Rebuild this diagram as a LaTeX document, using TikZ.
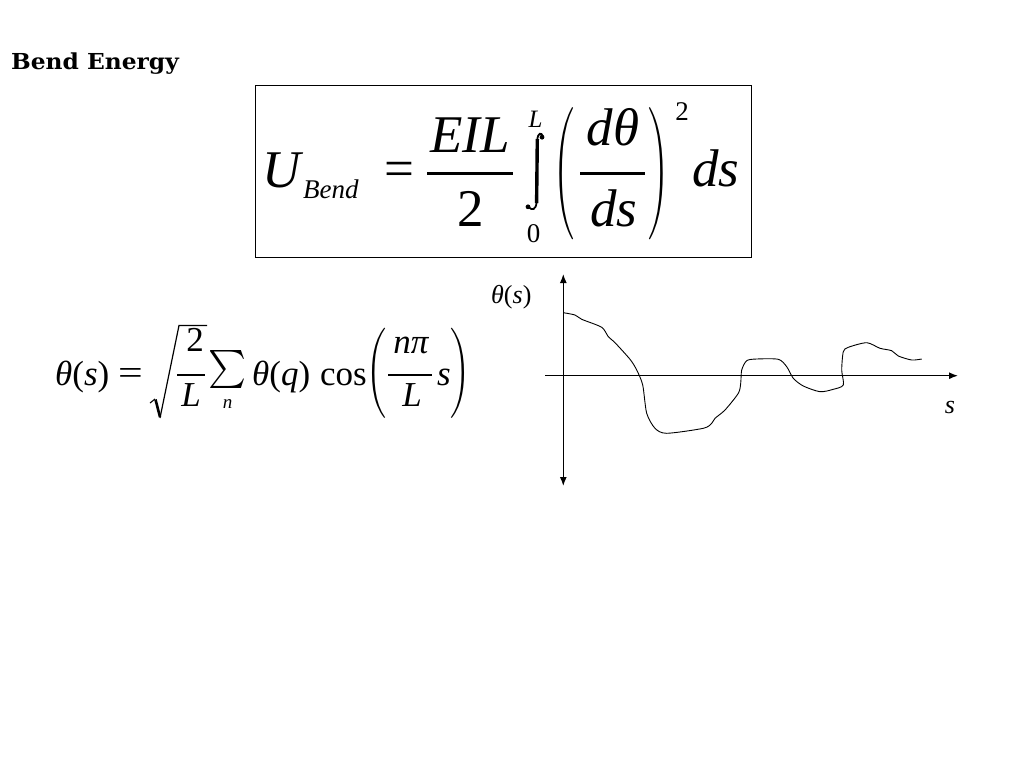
\documentclass[tikz,border=0pt]{standalone}
\usepackage{graphicx}
\usepackage{fontspec}
\setmainfont{Liberation Serif}
\newfontfamily\titlefont{DejaVu Serif}
\usetikzlibrary{arrows.meta}
\tikzset{
  axis/.style={line width=1.3pt,{Latex[length=9pt,width=7pt]}-{Latex[length=9pt,width=7pt]}},
  curve/.style={line width=0.9pt},
  frame/.style={draw,line width=0.9pt},
  big/.style={inner sep=0pt,font=\fontsize{53}{60}\selectfont\itshape},
  bigr/.style={inner sep=0pt,font=\fontsize{53}{60}\selectfont},
  mid/.style={inner sep=0pt,font=\fontsize{35}{40}\selectfont\itshape},
  midr/.style={inner sep=0pt,font=\fontsize{35}{40}\selectfont},
  sml/.style={inner sep=0pt,font=\fontsize{27}{30}\selectfont\itshape},
  smlr/.style={inner sep=0pt,font=\fontsize{27}{30}\selectfont},
  tiny/.style={inner sep=0pt,font=\fontsize{19}{24}\selectfont\itshape},
  lab/.style={inner sep=0pt,font=\fontsize{26}{30}\selectfont},
  bigbar/.style={line width=2.4pt},
  midbar/.style={line width=1.6pt},
  glyph/.style={inner sep=0pt}
}
\begin{document}
\begin{tikzpicture}[x=1pt,y=-1pt]
\useasboundingbox (0,0) rectangle (1024,768);
% title
\node[inner sep=0pt,anchor=base west,xscale=1.06,font=\titlefont\bfseries\fontsize{22}{26}\selectfont] (title) at (11,69) {Bend Energy};
% boxed formula
\node[frame,minimum width=496pt,minimum height=172pt,anchor=north west] (box) at (255,85) {};
\node[big,anchor=base west] (U) at (262,187) {U};
\node[sml,anchor=base west] (bend) at (303,198) {Bend};
\node[bigr,anchor=base] (eq1) at (399,186) {=};
\node[big,anchor=base] (eil) at (470,152) {EIL};
\coordinate (b1l) at (427,173.3);
\coordinate (b1r) at (513,173.3);
\draw[bigbar] (b1l) -- (b1r);
\node[bigr,anchor=base] (two1) at (470.5,226.7) {2};
% integral sign
\draw[line width=1.8pt] (543,136.5) .. controls (541.5,132) and (537.8,132.5) .. (537.3,140);
\draw[line width=3.4pt] (537.3,139) -- (536.6,203);
\draw[line width=1.8pt] (536.6,202) .. controls (536,210) and (532,210.5) .. (529,207.5);
\fill (542,137.2) circle (2.4pt);
\fill (528,206.8) circle (2.4pt);
\node[sml,anchor=base,font=\fontsize{25}{30}\selectfont\itshape] (upL) at (535.5,127) {L};
\node[smlr,anchor=base] (low0) at (533.5,242.5) {0};
\node[glyph] (lp1) at (564,174) {\resizebox*{21pt}{132pt}{$\Biggl($}};
\node[big,anchor=base] (dth) at (613,145) {dθ};
\coordinate (b2l) at (580,173.3);
\coordinate (b2r) at (645,173.3);
\draw[bigbar] (b2l) -- (b2r);
\node[big,anchor=base] (ds1) at (614,226.7) {ds};
\node[glyph] (rp1) at (659,174) {\resizebox*{21pt}{132pt}{$\Biggr)$}};
\node[smlr,anchor=base] (sq) at (682,120) {2};
\node[big,anchor=base west] (ds2) at (692,186.7) {ds};
% series formula
\node[midr,anchor=base west] (ths) at (55,385) {\textit{θ}(\textit{s})};
\node[midr,anchor=base,xscale=1.25] (eq2) at (130.5,384.5) {=};
\draw[line width=1.1pt] (150,403) -- (155,399);
\draw[line width=2.6pt] (155.5,399.5) -- (160,417);
\draw[line width=1.2pt] (160,418) -- (179,325.5) -- (207,325.5);
\node[midr,anchor=base] (two2) at (195,351.7) {2};
\coordinate (b3l) at (177,375);
\coordinate (b3r) at (205,375);
\draw[midbar] (b3l) -- (b3r);
\node[mid,anchor=base] (L1) at (191,406.7) {L};
\node[glyph] (sum) at (227.5,369.5) {\resizebox*{38pt}{38pt}{$\sum$}};
\node[tiny,anchor=base] (n) at (227.5,408.5) {n};
\node[midr,anchor=base west] (thq) at (252,385) {\textit{θ}(\textit{q})};
\node[midr,anchor=base west] (cos) at (320,385) {cos};
\node[glyph] (lp2) at (376,373) {\resizebox*{20pt}{90pt}{$\Biggl($}};
\node[mid,anchor=base] (npi) at (411,353) {nπ};
\coordinate (b4l) at (388,375);
\coordinate (b4r) at (432,375);
\draw[midbar] (b4l) -- (b4r);
\node[mid,anchor=base] (L2) at (412,406.7) {L};
\node[mid,anchor=base] (s2) at (444,385) {s};
\node[glyph] (rp2) at (460,373) {\resizebox*{20pt}{90pt}{$\Biggr)$}};
% plot
\coordinate (ytop) at (563.3,274);
\coordinate (ybot) at (563.3,486);
\coordinate (xl) at (545,375.7);
\coordinate (xr) at (958,375.7);
\draw[axis] (ybot) -- (ytop);
\draw[line width=1.3pt,-{Latex[length=9pt,width=7pt]}] (xl) -- (xr);
\node[lab,anchor=base west] (ylab) at (491,303) {\textit{θ}(\textit{s})};
\node[lab,anchor=base] (xlab) at (950,413) {\textit{s}};
\draw[curve] plot[smooth,tension=0.45] coordinates {
(563.3,312.7) (575,315) (581.7,319.3) (601.7,327.3) (608.3,336.7) (615,342.7)
(630,359.3) (636.7,370) (642.7,385) (646.7,413.3) (655,428.3) (666.7,433.3)
(703.3,428.3) (711.7,423.3) (715,418.3) (725,410) (738.3,393.3) (740.7,383.3)
(741.7,370) (746.7,360.7) (756.7,359) (778.3,359.3) (786.7,366.7) (793.3,378.3)
(803.3,386) (820,391.7) (833.3,389.3) (843.3,385) (841.7,370) (843.3,351.7)
(848.3,347.3) (866.7,342.7) (880,348.3) (891.7,350.7) (898.3,356) (911.7,360)
(921.7,359)};
\end{tikzpicture}
\end{document}
